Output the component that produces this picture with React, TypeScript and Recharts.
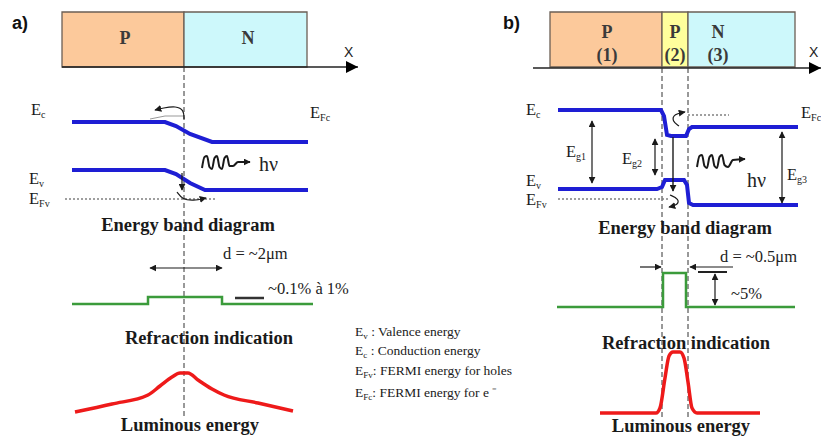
import React from 'react';
import { ComposedChart, Line, Scatter, XAxis, YAxis, ReferenceArea } from 'recharts';

// ---------------- layer strips (top) ----------------
const layersA = [
  { x1: 62, x2: 184, kind: 'p' },
  { x1: 184, x2: 307, kind: 'n' },
];
const layersB = [
  { x1: 550, x2: 662, kind: 'p' },
  { x1: 662, x2: 688, kind: 'p2' },
  { x1: 688, x2: 795, kind: 'n' },
];
const layerTop = 12;
const layerBottom = 67;

// ---------------- axes of the strips ----------------
const xAxisA = [{ x: 62, y: 67 }, { x: 358, y: 67 }];
const xAxisB = [{ x: 533, y: 68 }, { x: 821, y: 68 }];

// junction guides
const guideA = [{ x: 184, y: 67 }, { x: 184, y: 418 }];
const guideB1 = [{ x: 662, y: 68 }, { x: 662, y: 420 }];
const guideB2 = [{ x: 688, y: 68 }, { x: 688, y: 420 }];

// ---------------- band diagrams ----------------
const ecA = [{ x: 72, y: 122 }, { x: 165, y: 122 }, { x: 176, y: 126 }, { x: 190, y: 134 }, { x: 212, y: 142 }, { x: 308, y: 142 }];
const evA = [{ x: 72, y: 170 }, { x: 165, y: 170 }, { x: 176, y: 174 }, { x: 190, y: 183 }, { x: 205, y: 190 }, { x: 308, y: 190 }];
const efvA = [{ x: 65, y: 199 }, { x: 215, y: 199 }];

const ecB = [{ x: 558, y: 110 }, { x: 661, y: 110 }, { x: 664, y: 116 }, { x: 667, y: 135 }, { x: 671, y: 136 }, { x: 686, y: 136 }, { x: 689, y: 129 }, { x: 692, y: 127 }, { x: 798, y: 127 }];
const evB = [{ x: 558, y: 189 }, { x: 657, y: 189 }, { x: 662, y: 187 }, { x: 665, y: 180 }, { x: 684, y: 180 }, { x: 687, y: 185 }, { x: 689, y: 203 }, { x: 693, y: 205 }, { x: 798, y: 205 }];
const efvB = [{ x: 558, y: 199 }, { x: 668, y: 199 }];
const efcB = [{ x: 688, y: 115 }, { x: 729, y: 115 }];

// carrier arrows
const carrierA1 = [{ x: 184, y: 119 }, { x: 184, y: 110 }, { x: 176, y: 106 }, { x: 163, y: 108 }, { x: 155, y: 110 }];
const carrierA1b = [{ x: 150, y: 119 }, { x: 165, y: 116 }, { x: 184, y: 116 }];
const carrierA2 = [{ x: 182, y: 173 }, { x: 182, y: 190 }];
const carrierA3 = [{ x: 177, y: 192 }, { x: 182, y: 199 }, { x: 193, y: 201 }, { x: 206, y: 198 }];
const carrierB1 = [{ x: 679, y: 126 }, { x: 672, y: 121 }, { x: 674, y: 114 }, { x: 685, y: 112 }];
const carrierB2 = [{ x: 670, y: 195 }, { x: 679, y: 199 }, { x: 678, y: 205 }, { x: 669, y: 207 }];

// gap arrows
const eg1 = [{ x: 592, y: 121 }, { x: 592, y: 183 }];
const eg2 = [{ x: 655, y: 139 }, { x: 655, y: 175 }];
const eg3 = [{ x: 782, y: 132 }, { x: 782, y: 203 }];
const recombB = [{ x: 673, y: 137 }, { x: 673, y: 191 }];

// photons
const waveA = [{ x: 202, y: 168 }, { x: 204.5, y: 157 }, { x: 207, y: 156 }, { x: 209.5, y: 167 }, { x: 212, y: 169 }, { x: 214.5, y: 158 }, { x: 217, y: 156 }, { x: 219.5, y: 167 }, { x: 222, y: 169 }, { x: 224.5, y: 158 }, { x: 227, y: 156 }, { x: 229.5, y: 166 }, { x: 233, y: 166 }, { x: 238, y: 162 }, { x: 250, y: 162 }];
const waveB = [{ x: 697, y: 167 }, { x: 699.5, y: 156 }, { x: 702, y: 155 }, { x: 704.5, y: 166 }, { x: 707, y: 168 }, { x: 709.5, y: 157 }, { x: 712, y: 155 }, { x: 714.5, y: 166 }, { x: 717, y: 168 }, { x: 719.5, y: 157 }, { x: 722, y: 155 }, { x: 724.5, y: 165 }, { x: 728, y: 167 }, { x: 733, y: 160 }, { x: 745, y: 159 }];

// ---------------- refraction index profiles ----------------
const refrA = [{ x: 72, y: 304 }, { x: 148, y: 304 }, { x: 148, y: 297 }, { x: 222, y: 297 }, { x: 222, y: 304 }, { x: 313, y: 304 }];
const refrB = [{ x: 557, y: 307 }, { x: 663, y: 307 }, { x: 663, y: 273 }, { x: 686, y: 273 }, { x: 686, y: 307 }, { x: 795, y: 307 }];
const dA = [{ x: 150, y: 268 }, { x: 222, y: 268 }];
const stepA = [{ x: 235, y: 298 }, { x: 264, y: 298 }];
const dB1 = [{ x: 640, y: 267 }, { x: 661, y: 267 }];
const dB2 = [{ x: 733, y: 267 }, { x: 690, y: 267 }];
const stepB = [{ x: 698, y: 272 }, { x: 727, y: 272 }];
const pctB = [{ x: 715, y: 274 }, { x: 715, y: 305 }];

// ---------------- luminous energy ----------------
const lumA = [{ x: 75, y: 412 }, { x: 112, y: 404 }, { x: 148, y: 395 }, { x: 160, y: 386 }, { x: 172, y: 377 }, { x: 180, y: 373 }, { x: 188, y: 373 }, { x: 198, y: 380 }, { x: 212, y: 389 }, { x: 224, y: 395 }, { x: 258, y: 403 }, { x: 293, y: 411 }];
const lumB = [{ x: 600, y: 413 }, { x: 656, y: 413 }, { x: 660, y: 408 }, { x: 665, y: 378 }, { x: 669, y: 356 }, { x: 673, y: 352 }, { x: 680, y: 352 }, { x: 684, y: 358 }, { x: 688, y: 382 }, { x: 692, y: 408 }, { x: 697, y: 413 }, { x: 760, y: 413 }];

// ---------------- texts ----------------
const panelTexts = [{ x: 12, y: 29, t: 'a)' }, { x: 503, y: 29, t: 'b)' }];
const axisTexts = [{ x: 344, y: 57, t: 'X' }, { x: 809, y: 57, t: 'X' }];
const layerTexts = [
  { x: 125, y: 44, t: 'P' }, { x: 248, y: 44, t: 'N' },
  { x: 607, y: 38, t: 'P' }, { x: 607, y: 61, t: '(1)' },
  { x: 675, y: 38, t: 'P' }, { x: 675, y: 61, t: '(2)' },
  { x: 718, y: 38, t: 'N' }, { x: 718, y: 61, t: '(3)' },
];
const energyTexts = [
  { x: 31, y: 115, sub: 'c' }, { x: 310, y: 118, sub: 'Fc' },
  { x: 29, y: 184, sub: 'v' }, { x: 29, y: 204, sub: 'Fv' },
  { x: 526, y: 115, sub: 'c' }, { x: 801, y: 118, sub: 'Fc' },
  { x: 526, y: 186, sub: 'v' }, { x: 526, y: 205, sub: 'Fv' },
  { x: 566, y: 157, sub: 'g1' }, { x: 622, y: 164, sub: 'g2' }, { x: 787, y: 180, sub: 'g3' },
];
const titleTexts = [
  { x: 188, y: 231, t: 'Energy band diagram' }, { x: 685, y: 234, t: 'Energy band diagram' },
  { x: 209, y: 344, t: 'Refraction indication' }, { x: 686, y: 349, t: 'Refraction indication' },
  { x: 190, y: 431, t: 'Luminous energy' }, { x: 681, y: 432, t: 'Luminous energy' },
];
const noteTexts = [
  { x: 223, y: 259, t: 'd = ~2μm' }, { x: 268, y: 294, t: '~0.1% à 1%' },
  { x: 720, y: 262, t: 'd = ~0.5μm' }, { x: 731, y: 299, t: '~5%' },
];
const photonTexts = [{ x: 259, y: 171, t: 'hν' }, { x: 747, y: 187, t: 'hν' }];
const legendTexts = [
  { x: 355, y: 336, sub: 'v', t: ' : Valence energy' },
  { x: 355, y: 355, sub: 'c', t: ' : Conduction energy' },
  { x: 355, y: 375, sub: 'Fv', t: ': FERMI energy for holes' },
  { x: 355, y: 397, sub: 'Fc', t: ': FERMI energy for e ⁻' },
];

// ---------------- styles ----------------
const SERIF = '"Liberation Serif", "Times New Roman", serif';
const SANS = '"Liberation Sans", Arial, sans-serif';
const BLUE = '#1e1ed4';
const GREEN = '#3b9b3b';
const RED = '#ee1a1a';
const INK = '#1a1a1a';
const layerFill: Record<string, string> = { p: '#fcc99b', p2: '#ffff9c', n: '#cdf8fb' };

const shapeText = (style: any) => (props: any) => {
  const { cx, cy, payload } = props;
  return (
    <text x={cx} y={cy} {...style}>
      {payload.t}
    </text>
  );
};
const shapeEnergy = (props: any) => {
  const { cx, cy, payload } = props;
  return (
    <text x={cx} y={cy} fontFamily={SERIF} fontSize={16.5} fill={INK}>
      E<tspan fontSize={10} dy={2.5}>{payload.sub}</tspan>
    </text>
  );
};
const shapeLegend = (props: any) => {
  const { cx, cy, payload } = props;
  return (
    <text x={cx} y={cy} fontFamily={SERIF} fontSize={13.5} fill={INK}>
      E<tspan fontSize={9} dy={3}>{payload.sub}</tspan>
      <tspan dy={-3}>{payload.t}</tspan>
    </text>
  );
};

const line = (data: any[], stroke: string, width: number, extra: any = {}) => (
  <Line
    data={data}
    dataKey="y"
    type="linear"
    stroke={stroke}
    strokeWidth={width}
    dot={false}
    activeDot={false}
    legendType="none"
    isAnimationActive={false}
    {...extra}
  />
);

export default function App() {
  return (
    <div style={{ position: 'absolute', left: 0, top: 0, width: 821, height: 436, background: '#fff' }}>
      <ComposedChart width={821} height={436} margin={{ top: 0, right: 0, bottom: 0, left: 0 }}>
        <defs>
          <marker id="ah" viewBox="0 0 10 10" refX="9" refY="5" markerWidth="7" markerHeight="7" markerUnits="userSpaceOnUse" orient="auto-start-reverse">
            <path d="M0,0 L10,5 L0,10 z" fill={INK} />
          </marker>
          <marker id="axh" viewBox="0 0 10 10" refX="10" refY="5" markerWidth="14" markerHeight="12" markerUnits="userSpaceOnUse" orient="auto">
            <path d="M0,0 L10,5 L0,10 z" fill="#000" />
          </marker>
        </defs>
        <XAxis type="number" dataKey="x" domain={[0, 821]} allowDataOverflow hide />
        <YAxis type="number" dataKey="y" domain={[0, 436]} reversed allowDataOverflow hide />

        {[...layersA, ...layersB].map((l, i) => (
          <ReferenceArea key={'layer' + i} x1={l.x1} x2={l.x2} y1={layerTop} y2={layerBottom} fill={layerFill[l.kind]} fillOpacity={1} stroke="#6b5f55" strokeWidth={1.3} ifOverflow="visible" />
        ))}

        {line(xAxisA, '#222', 1.3, { markerEnd: 'url(#axh)' })}
        {line(xAxisB, '#222', 1.3, { markerEnd: 'url(#axh)' })}

        {line(guideA, '#333', 1, { strokeDasharray: '5 3' })}
        {line(guideB1, '#333', 1, { strokeDasharray: '5 3' })}
        {line(guideB2, '#333', 1, { strokeDasharray: '5 3' })}

        {line(efvA, '#808080', 1.5, { strokeDasharray: '2 2' })}
        {line(efvB, '#808080', 1.5, { strokeDasharray: '2 2' })}
        {line(efcB, '#808080', 1.5, { strokeDasharray: '2 2' })}

        {line(ecA, BLUE, 4)}
        {line(evA, BLUE, 4)}
        {line(ecB, BLUE, 4)}
        {line(evB, BLUE, 4)}

        {line(carrierA1b, '#999', 1)}
        {line(carrierA1, INK, 1.2, { type: 'basis', markerEnd: 'url(#ah)' })}
        {line(carrierA2, INK, 1.2, { markerEnd: 'url(#ah)' })}
        {line(carrierA3, INK, 1.2, { type: 'basis', markerEnd: 'url(#ah)' })}
        {line(carrierB1, INK, 1.2, { type: 'basis', markerEnd: 'url(#ah)' })}
        {line(carrierB2, INK, 1.2, { type: 'basis', markerEnd: 'url(#ah)' })}

        {line(eg1, INK, 1.2, { markerStart: 'url(#ah)', markerEnd: 'url(#ah)' })}
        {line(eg2, INK, 1.2, { markerStart: 'url(#ah)', markerEnd: 'url(#ah)' })}
        {line(eg3, INK, 1.2, { markerStart: 'url(#ah)', markerEnd: 'url(#ah)' })}
        {line(recombB, INK, 1.4, { markerEnd: 'url(#ah)' })}

        {line(waveA, INK, 2, { type: 'monotone', markerEnd: 'url(#ah)' })}
        {line(waveB, INK, 2, { type: 'monotone', markerEnd: 'url(#ah)' })}

        {line(refrA, GREEN, 2.5)}
        {line(refrB, GREEN, 2.5)}
        {line(dA, INK, 1.2, { markerStart: 'url(#ah)', markerEnd: 'url(#ah)' })}
        {line(stepA, '#333', 2.5)}
        {line(dB1, INK, 1.2, { markerEnd: 'url(#ah)' })}
        {line(dB2, INK, 1.2, { markerEnd: 'url(#ah)' })}
        {line(stepB, '#222', 2)}
        {line(pctB, INK, 1.2, { markerStart: 'url(#ah)', markerEnd: 'url(#ah)' })}

        {line(lumA, RED, 3.5, { type: 'monotone' })}
        {line(lumB, RED, 3.5, { type: 'monotone' })}

        <Scatter data={panelTexts} isAnimationActive={false} legendType="none" shape={shapeText({ fontFamily: SANS, fontWeight: 'bold', fontSize: 18, fill: '#111' })} />
        <Scatter data={axisTexts} isAnimationActive={false} legendType="none" shape={shapeText({ fontFamily: SANS, fontSize: 14, fill: '#222' })} />
        <Scatter data={layerTexts} isAnimationActive={false} legendType="none" shape={shapeText({ fontFamily: SERIF, fontWeight: 'bold', fontSize: 18, fill: '#3a3a3a', textAnchor: 'middle' })} />
        <Scatter data={energyTexts} isAnimationActive={false} legendType="none" shape={shapeEnergy} />
        <Scatter data={titleTexts} isAnimationActive={false} legendType="none" shape={shapeText({ fontFamily: SERIF, fontWeight: 'bold', fontSize: 18.5, fill: '#1a1a1a', textAnchor: 'middle' })} />
        <Scatter data={noteTexts} isAnimationActive={false} legendType="none" shape={shapeText({ fontFamily: SERIF, fontSize: 16.5, fill: '#222' })} />
        <Scatter data={photonTexts} isAnimationActive={false} legendType="none" shape={shapeText({ fontFamily: SERIF, fontSize: 20, fill: '#222' })} />
        <Scatter data={legendTexts} isAnimationActive={false} legendType="none" shape={shapeLegend} />
      </ComposedChart>
    </div>
  );
}
